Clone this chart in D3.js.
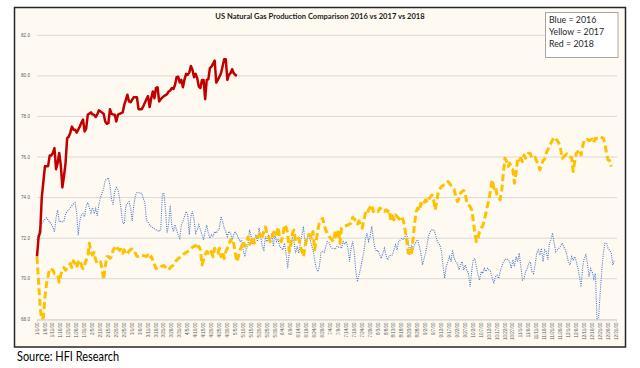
<!DOCTYPE html>
<html><head><meta charset="utf-8">
<script src="https://cdn.jsdelivr.net/npm/d3@7"></script>
<style>body{margin:0;background:#fff}svg{display:block}</style>
</head><body><svg id="c" width="640" height="368"></svg>
<script>
// Category tick labels (every 5th day of the common date axis)
const tickLabels = ["1/1/00","1/6/00","1/11/00","1/16/00","1/21/00","1/26/00","1/31/00",
"2/5/00","2/10/00","2/15/00","2/20/00","2/25/00",
"3/1/00","3/6/00","3/11/00","3/16/00","3/21/00","3/26/00","3/31/00",
"4/5/00","4/10/00","4/15/00","4/20/00","4/25/00","4/30/00",
"5/5/00","5/10/00","5/15/00","5/20/00","5/25/00","5/30/00",
"6/4/00","6/9/00","6/14/00","6/19/00","6/24/00","6/29/00",
"7/4/00","7/9/00","7/14/00","7/19/00","7/24/00","7/29/00",
"8/3/00","8/8/00","8/13/00","8/18/00","8/23/00","8/28/00",
"9/2/00","9/7/00","9/12/00","9/17/00","9/22/00","9/27/00",
"10/2/00","10/7/00","10/12/00","10/17/00","10/22/00","10/27/00",
"11/1/00","11/6/00","11/11/00","11/16/00","11/21/00","11/26/00",
"12/1/00","12/6/00","12/11/00","12/16/00","12/21/00","12/26/00","12/31/00"];
const tickStep = 5;          // days between labels
const dayCount = 366;        // categories on the axis
const yTicks = [68,70,72,74,76,78,80,82];

// [day index, Bcf/d]
const blue2016 = [[0,71.9],[1,72.3],[2,72.6],[4,72.85],[6,73.0],[8,72.8],[10,72.55],[11,72.3],[12,73.0],[13,73.4],[14,72.8],[15,72.85],[16,72.8],[17,72.85],[18,73.2],[20,73.4],[21,73.5],[22,73.6],[23,73.7],[24,73.75],[25,73.25],[26,72.15],[27,72.85],[28,73.15],[29,73.2],[30,73.05],[31,73.6],[32,73.75],[33,73.5],[34,73.25],[35,73.5],[36,73.2],[37,73.45],[38,73.1],[39,73.65],[40,74.0],[42,74.45],[43,74.85],[45,74.97],[46,74.6],[47,73.9],[48,73.65],[49,74.3],[50,74.5],[51,74.4],[52,74.0],[53,73.4],[54,72.75],[55,72.7],[56,73.6],[58,73.8],[59,73.5],[60,72.85],[61,73.6],[62,74.1],[63,74.25],[65,74.23],[66,74.2],[68,73.74],[69,72.9],[71,72.66],[73,72.5],[75,72.41],[77,72.33],[78,72.4],[79,74.15],[80,74.23],[81,73.4],[82,72.25],[83,72.7],[84,73.65],[85,72.6],[86,72.33],[87,72.66],[88,72.41],[89,72.17],[90,72.0],[91,72.66],[92,72.83],[93,73.07],[94,73.32],[95,73.15],[96,72.17],[97,73.07],[98,73.32],[99,72.9],[100,72.25],[101,72.41],[102,72.66],[103,72.41],[105,71.92],[106,72.33],[107,72.66],[108,72.25],[109,72.0],[110,72.17],[111,72.1],[112,72.33],[113,72.25],[115,72.5],[116,73.07],[117,72.83],[118,72.5],[119,72.33],[120,72.08],[121,72.33],[122,72.25],[123,71.92],[124,72.17],[125,72.33],[126,72.17],[128,71.83],[129,71.9],[130,71.42],[131,71.09],[132,71.5],[133,71.67],[134,72.41],[135,72.08],[136,71.75],[137,71.83],[138,72.17],[139,71.83],[140,72.5],[141,72.08],[142,71.59],[143,71.42],[144,72.08],[145,71.83],[146,72.17],[147,71.75],[148,72.25],[149,71.59],[150,72.17],[151,71.83],[152,71.92],[153,71.59],[155,71.42],[156,71.75],[157,71.26],[158,70.51],[159,71.26],[160,71.75],[161,72.0],[162,71.83],[163,71.26],[164,71.59],[165,71.26],[166,71.75],[168,72.58],[169,71.67],[170,71.83],[171,72.17],[172,72.0],[173,71.67],[174,71.42],[175,70.93],[176,70.51],[177,70.35],[178,70.6],[179,71.3],[180,71.34],[181,71.3],[182,71.55],[183,71.83],[184,71.8],[185,71.6],[186,71.5],[187,71.5],[188,71.45],[189,71.59],[190,71.55],[191,71.59],[192,71.5],[193,71.83],[194,71.7],[195,71.83],[196,71.5],[197,70.84],[198,71.5],[199,71.83],[200,71.3],[201,70.35],[202,69.85],[203,70.2],[204,70.5],[205,70.93],[206,71.3],[207,71.92],[208,72.25],[209,71.85],[210,72.08],[211,72.58],[212,72.0],[213,71.5],[214,71.34],[215,71.4],[216,71.17],[217,71.0],[218,71.25],[219,71.5],[220,71.17],[221,70.93],[222,71.1],[223,71.17],[224,71.17],[225,71.42],[226,71.67],[227,71.42],[228,71.83],[230,72.0],[231,71.92],[232,72.08],[233,72.17],[234,71.92],[235,71.17],[236,71.67],[237,71.42],[238,71.67],[239,71.83],[240,71.92],[241,71.6],[242,71.26],[243,70.68],[244,71.0],[245,71.26],[246,71.75],[247,72.17],[248,72.33],[249,72.41],[250,72.41],[251,72.25],[252,71.92],[253,71.75],[254,71.67],[255,71.34],[256,70.6],[257,70.02],[258,70.6],[259,70.84],[260,71.09],[261,70.84],[262,71.42],[263,71.0],[264,70.84],[265,70.76],[266,70.43],[267,70.68],[268,70.84],[269,70.43],[270,70.68],[271,70.43],[272,70.26],[273,69.6],[274,70.35],[275,70.93],[276,71.0],[277,70.6],[278,70.18],[279,69.93],[280,70.35],[281,70.26],[282,70.51],[283,70.35],[284,70.51],[285,70.43],[286,70.35],[287,70.02],[288,69.77],[289,70.1],[290,70.18],[291,70.02],[292,70.35],[293,70.6],[294,70.84],[296,71.0],[297,70.93],[298,70.84],[299,70.51],[300,70.93],[301,70.6],[302,71.09],[303,70.84],[304,71.26],[305,70.6],[306,69.93],[307,70.0],[308,70.35],[309,70.51],[310,70.76],[311,70.84],[312,70.35],[313,70.26],[314,70.68],[315,71.26],[316,71.42],[317,71.17],[318,71.5],[319,70.84],[320,71.42],[321,71.34],[322,70.93],[323,71.75],[324,71.92],[325,72.25],[326,71.75],[327,71.34],[328,71.42],[329,71.5],[330,71.59],[331,71.75],[332,71.59],[333,71.42],[334,71.17],[335,70.84],[336,70.68],[337,71.09],[338,70.93],[339,71.09],[340,70.84],[341,70.51],[342,70.1],[343,69.6],[344,70.6],[345,71.0],[346,71.17],[347,70.76],[348,70.1],[349,70.5],[350,70.35],[351,70.0],[352,70.26],[353,68.03],[354,68.03],[355,69.27],[356,70.35],[357,71.26],[358,71.75],[359,71.75],[360,71.5],[361,71.4],[362,71.26],[363,70.68],[364,70.93]];

const yellow2017 = [[0,71.08],[2,68.58],[3,68.0],[4,68.1],[5,69.08],[6,69.75],[8,70.5],[10,70.42],[11,70.25],[13,70.2],[14,69.83],[15,70.2],[16,70.45],[17,70.55],[18,70.42],[20,70.62],[21,70.75],[22,70.55],[23,70.88],[24,70.75],[25,70.55],[26,70.83],[27,70.92],[28,70.67],[29,70.5],[30,70.67],[31,70.92],[32,71.08],[33,71.75],[34,71.3],[35,71.17],[36,71.3],[37,70.92],[38,70.75],[40,70.83],[41,70.5],[42,69.95],[43,70.6],[44,71.08],[45,71.1],[46,71.0],[47,71.1],[48,71.42],[49,71.5],[50,71.35],[51,71.5],[52,71.4],[53,71.45],[54,71.25],[55,71.42],[56,71.2],[57,71.25],[58,71.35],[59,71.45],[60,71.45],[61,71.3],[62,71.26],[63,71.1],[65,71.09],[66,71.15],[67,71.14],[69,71.1],[70,71.17],[71,71.0],[72,71.1],[73,70.92],[75,70.5],[77,70.5],[78,70.6],[80,70.65],[82,70.5],[83,70.43],[84,70.55],[86,70.68],[87,70.8],[88,70.92],[90,71.05],[91,71.12],[93,71.25],[95,71.34],[96,71.4],[98,71.55],[100,71.64],[101,71.45],[102,71.6],[103,71.42],[104,70.68],[105,70.92],[106,71.17],[107,71.34],[108,71.26],[109,71.42],[110,71.3],[111,71.09],[112,71.5],[113,71.34],[114,71.26],[115,71.5],[116,71.09],[117,71.34],[118,71.0],[119,71.34],[120,71.5],[122,71.92],[123,71.67],[124,71.75],[125,71.26],[126,70.84],[127,71.1],[128,71.42],[129,71.6],[130,71.84],[131,71.6],[132,71.75],[133,72.05],[134,71.7],[135,71.8],[136,72.08],[137,71.75],[138,71.95],[139,72.08],[140,72.1],[141,72.28],[142,72.08],[143,72.33],[144,72.55],[145,72.25],[147,71.83],[148,71.95],[149,72.25],[150,72.38],[151,72.2],[152,72.55],[153,71.95],[154,71.83],[155,72.15],[156,72.66],[157,72.55],[158,72.25],[159,71.34],[160,71.67],[161,72.25],[162,72.4],[163,71.84],[165,72.0],[166,71.6],[168,71.09],[169,71.6],[170,71.95],[171,72.17],[172,72.17],[173,72.0],[174,72.33],[175,71.42],[176,71.84],[177,72.4],[178,72.74],[179,72.9],[180,72.98],[181,72.7],[182,72.4],[184,72.1],[185,72.0],[187,71.83],[188,72.33],[189,72.1],[190,72.44],[191,71.75],[192,72.5],[193,72.57],[196,72.65],[198,72.74],[199,73.03],[201,72.85],[202,72.7],[203,72.85],[205,72.49],[206,72.85],[207,73.23],[208,73.15],[209,73.4],[211,73.64],[212,73.31],[213,73.4],[215,73.31],[216,73.48],[218,73.4],[219,73.31],[220,73.4],[221,73.31],[222,73.4],[223,72.9],[224,73.1],[225,72.9],[226,73.15],[227,73.07],[229,72.9],[230,73.03],[231,72.85],[232,72.41],[233,71.92],[234,71.26],[235,71.3],[236,71.17],[237,71.9],[238,72.7],[239,73.3],[240,73.48],[241,73.35],[242,73.72],[243,73.6],[245,73.89],[246,73.75],[247,73.92],[249,74.13],[250,73.9],[251,73.4],[252,73.8],[253,74.3],[255,74.55],[256,74.6],[258,74.71],[259,74.79],[260,74.71],[261,74.6],[262,74.46],[263,74.4],[264,74.05],[265,73.8],[266,73.95],[267,74.22],[268,74.3],[269,74.35],[270,74.2],[271,73.72],[273,73.56],[274,73.4],[275,72.9],[276,72.24],[277,71.83],[278,72.0],[279,72.33],[280,72.5],[281,72.6],[282,72.9],[283,73.23],[284,73.6],[285,73.89],[286,74.46],[287,74.88],[288,74.46],[289,74.55],[290,74.13],[291,74.0],[292,73.89],[293,74.38],[294,75.2],[295,75.94],[296,75.78],[297,75.53],[298,75.7],[299,75.45],[300,75.37],[301,74.71],[302,75.2],[303,75.94],[304,75.86],[305,75.94],[306,75.78],[307,76.1],[308,75.94],[310,76.19],[311,76.16],[312,75.94],[314,75.99],[315,75.78],[316,75.7],[317,75.37],[318,75.6],[319,75.83],[320,75.9],[321,76.19],[323,76.52],[324,76.68],[325,76.85],[326,76.98],[327,76.88],[328,76.82],[329,76.68],[330,76.44],[331,75.94],[332,76.0],[334,76.16],[335,76.1],[336,76.0],[337,75.99],[338,75.29],[339,75.8],[340,76.19],[341,76.27],[342,76.36],[343,76.1],[344,76.52],[345,76.85],[347,76.88],[348,76.8],[350,76.88],[351,76.72],[352,76.93],[354,76.9],[355,76.98],[357,76.93],[358,76.68],[359,76.19],[360,75.86],[361,75.82],[362,75.53]];

const red2018 = [[0,71.1],[1,72.05],[2,72.3],[3,74.0],[5,75.54],[7,75.55],[8,76.07],[9,76.07],[10,76.2],[11,76.44],[12,75.4],[13,75.7],[14,76.2],[15,75.6],[16,74.5],[17,75.05],[18,75.7],[19,76.93],[20,77.0],[21,77.2],[22,77.5],[23,77.35],[24,77.35],[25,77.2],[26,77.35],[27,77.5],[28,77.7],[29,77.85],[30,77.26],[31,77.4],[32,78.08],[34,78.2],[35,78.1],[36,78.08],[37,77.97],[38,78.1],[39,78.3],[40,78.25],[42,78.13],[43,77.75],[44,77.64],[45,77.67],[46,78.36],[47,78.13],[48,78.1],[49,78.08],[50,77.75],[51,78.08],[52,78.13],[54,78.2],[55,78.57],[56,78.82],[57,79.07],[58,78.74],[59,78.7],[61,78.95],[63,78.95],[64,78.36],[66,78.36],[67,78.5],[69,78.85],[70,79.0],[71,78.46],[72,78.9],[73,79.23],[74,78.9],[75,79.4],[76,79.44],[77,78.74],[78,78.85],[80,79.0],[82,79.1],[83,79.23],[84,79.28],[85,79.4],[86,79.35],[87,79.55],[88,79.93],[89,79.96],[90,79.67],[91,79.8],[92,79.44],[93,79.83],[94,80.1],[95,80.05],[96,80.16],[97,80.49],[98,80.3],[99,79.93],[100,80.1],[101,79.89],[102,79.47],[103,79.4],[104,79.8],[105,79.8],[106,78.85],[107,79.8],[108,79.83],[109,80.38],[110,80.46],[112,80.75],[113,79.67],[114,79.8],[116,80.13],[118,80.82],[119,80.82],[120,79.8],[121,80.05],[122,80.13],[123,80.33],[124,80.13],[125,80.05],[126,80.0]];

const titleText = "US Natural Gas Production Comparison 2016 vs 2017 vs 2018";
const legendLines = ["Blue = 2016","Yellow = 2017","Red = 2018"];
const sourceText = "Source: HFI Research";

const svg = d3.select("#c");
const W = 640, H = 368;
svg.append("rect").attr("width",W).attr("height",H).attr("fill","#fff");
// chart frame
svg.append("rect").attr("x",14.5).attr("y",7.5).attr("width",611).attr("height",339.5)
  .attr("fill","#fffaf1").attr("stroke","#262626").attr("stroke-width",1.5);

const x = d3.scaleLinear().domain([0, dayCount-1]).range([37, 616]);
const y = d3.scaleLinear().domain([68, 82]).range([319.3, 35.3]);

// gridlines
svg.append("g").selectAll("line").data(yTicks.filter(v=>v>68)).join("line")
  .attr("x1",37).attr("x2",617).attr("y1",d=>y(d)).attr("y2",d=>y(d))
  .attr("stroke","#d9d9d9").attr("stroke-width",1);

// y labels
svg.append("g").selectAll("text").data(yTicks).join("text")
  .attr("x",30).attr("y",d=>y(d)).attr("dy","0.35em").attr("text-anchor","end")
  .attr("font-family","Liberation Sans, Arial, sans-serif").attr("font-size",4.6).attr("fill","#595959")
  .text(d=>d.toFixed(1));

// x axis with ticks at each category
const xAxis = d3.axisBottom(x).tickValues(d3.range(0,dayCount,1)).tickSize(2).tickFormat("");
const gx = svg.append("g").attr("transform",`translate(0,${y(68)})`).call(xAxis);
gx.select(".domain").attr("stroke","#d0d0d0");
gx.selectAll(".tick line").attr("stroke","#d4d4d4").attr("stroke-width",0.6);

svg.append("g").selectAll("text").data(tickLabels).join("text")
  .attr("transform",(d,i)=>`translate(${x(i*tickStep)},322.5) rotate(-90)`)
  .attr("text-anchor","end").attr("dy","0.35em")
  .attr("font-family","Liberation Sans, Arial, sans-serif").attr("font-size",4.5).attr("fill","#595959")
  .text(d=>d);

const line = d3.line().x(d=>x(d[0])).y(d=>y(d[1]));

svg.append("path").datum(blue2016).attr("d",line).attr("fill","none")
  .attr("stroke","#4a78c8").attr("stroke-width",1.1).attr("stroke-dasharray","1 1.2");
svg.append("path").datum(yellow2017).attr("d",line).attr("fill","none")
  .attr("stroke","#ffc000").attr("stroke-width",3).attr("stroke-dasharray","7 3.5").attr("stroke-linejoin","round");
svg.append("path").datum(red2018).attr("d",line).attr("fill","none")
  .attr("stroke","#c00000").attr("stroke-width",2.5).attr("stroke-linejoin","round");

// title
svg.append("text").attr("x",320).attr("y",19.3).attr("text-anchor","middle")
  .attr("font-family","Lato, sans-serif").attr("font-weight","bold").attr("font-size",7.6)
  .attr("fill","#1a1a1a").text(titleText);

// legend box
svg.append("rect").attr("x",545.5).attr("y",12.5).attr("width",72.5).attr("height",45)
  .attr("fill","#fff").attr("stroke","#a6a6a6").attr("stroke-width",1);
svg.append("g").selectAll("text").data(legendLines).join("text")
  .attr("x",549).attr("y",(d,i)=>22.6+i*12)
  .attr("font-family","Lato, sans-serif").attr("font-size",8.8).attr("fill","#262626")
  .text(d=>d);

// source
svg.append("text").attr("x",17).attr("y",360.5)
  .attr("font-family","Lato, sans-serif").attr("font-size",12.5).attr("fill","#000")
  .attr("textLength",102).attr("lengthAdjust","spacingAndGlyphs")
  .text(sourceText);
</script></body></html>
